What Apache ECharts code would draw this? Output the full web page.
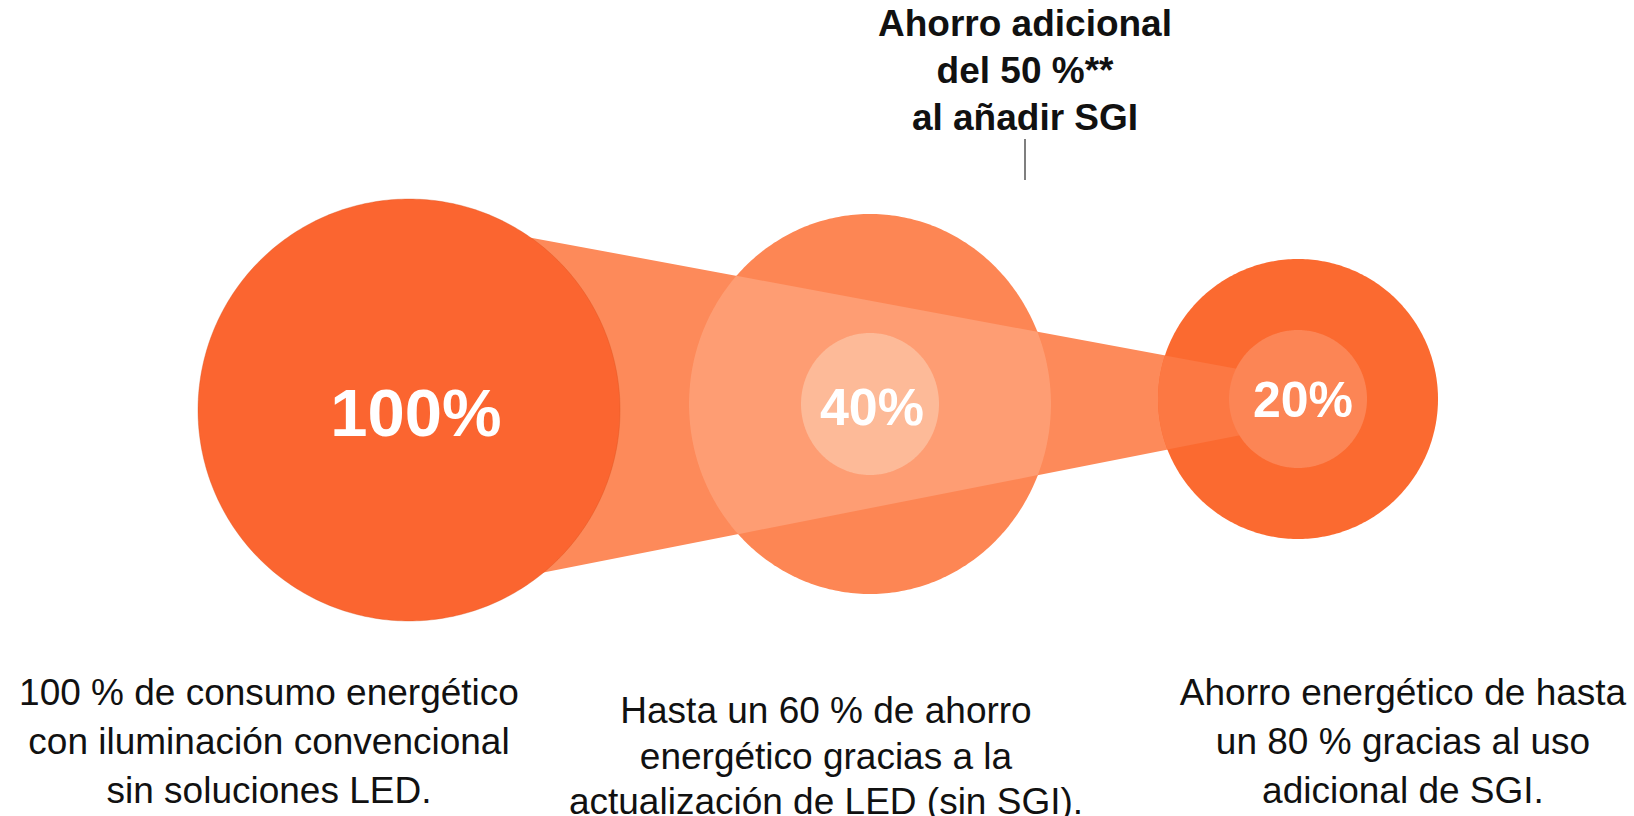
<!DOCTYPE html>
<html><head><meta charset="utf-8">
<script src="https://cdn.jsdelivr.net/npm/echarts@6/dist/echarts.min.js"></script>
<style>html,body{margin:0;padding:0;background:#fff}#c{width:1634px;height:816px}</style>
</head><body><div id="c"></div>
<script>
// ---- data ----
const categories = ['Iluminación convencional', 'LED', 'LED + SGI'];
const consumption = [100, 40, 20];
const valueLabels = ['100%', '40%', '20%'];
const captions = [
  ['100 % de consumo energético', 'con iluminación convencional', 'sin soluciones LED.'],
  ['Hasta un 60 % de ahorro', 'energético gracias a la', 'actualización de LED (sin SGI).'],
  ['Ahorro energético de hasta', 'un 80 % gracias al uso', 'adicional de SGI.']
];
const annotationLines = ['Ahorro adicional', 'del 50 %**', 'al añadir SGI'];

// ---- layout (canvas units) ----
const layout = {
  cx: [409, 870, 1298], cy: [410, 404, 399],
  rx: [211, 181, 140], ry: [211, 190, 140],
  innerRx: [0, 69, 69], innerRy: [0, 71, 69],
  labelSize: [67, 52, 50], labelDX: [7, 2, 5], labelDY: [2, 3, 1],
  cone: [[409, 215], [1297, 380], [1297, 424], [409, 599]],
  captionX: [269, 826, 1403],
  captionY: [[692, 741, 790], [710, 756, 801], [692, 741, 790]],
  annX: 1025, annY: [23, 70, 117], annLine: [139, 180]
};
const colors = {
  big: '#fb6530', cone: '#fd8a5a', mid: '#fd8654', coneMid: '#fe9d73', midInner: '#fdba98',
  small: '#fb6a30', coneSmall: '#fc7843', smallInner: '#fc8555'
};

function ellipsePts(c, rx, ry, n) {
  const pts = [];
  for (let i = 0; i < n; i++) {
    const a = 2 * Math.PI * i / n;
    pts.push([c[0] + rx * Math.cos(a), c[1] + ry * Math.sin(a)]);
  }
  return pts;
}
function clipPoly(subject, clip) {
  let area = 0;
  for (let i = 0; i < clip.length; i++) {
    const a = clip[i], b = clip[(i + 1) % clip.length];
    area += a[0] * b[1] - b[0] * a[1];
  }
  const s = area > 0 ? 1 : -1;
  let out = subject;
  for (let i = 0; i < clip.length; i++) {
    const A = clip[i], B = clip[(i + 1) % clip.length];
    const inside = p => s * ((B[0] - A[0]) * (p[1] - A[1]) - (B[1] - A[1]) * (p[0] - A[0])) >= 0;
    const inter = (P, Q) => {
      const x1 = P[0], y1 = P[1], x2 = Q[0], y2 = Q[1];
      const x3 = A[0], y3 = A[1], x4 = B[0], y4 = B[1];
      const d = (x1 - x2) * (y3 - y4) - (y1 - y2) * (x3 - x4);
      const t = ((x1 - x3) * (y3 - y4) - (y1 - y3) * (x3 - x4)) / d;
      return [x1 + t * (x2 - x1), y1 + t * (y2 - y1)];
    };
    const inp = out; out = [];
    for (let j = 0; j < inp.length; j++) {
      const P = inp[j], Q = inp[(j + 1) % inp.length];
      const pi = inside(P), qi = inside(Q);
      if (pi) { out.push(P); if (!qi) out.push(inter(P, Q)); }
      else if (qi) out.push(inter(P, Q));
    }
    if (!out.length) break;
  }
  return out;
}

function renderItem(params, api) {
  const children = [];
  const C = i => api.coord([layout.cx[i], layout.cy[i]]);
  const S = (rx, ry) => api.size([rx, ry]);
  const cone = layout.cone.map(p => api.coord(p));
  const ell = (c, rx, ry, fill) => ({ type: 'polygon', shape: { points: ellipsePts(c, rx, ry, 360) }, style: { fill } });
  // cone
  children.push({ type: 'polygon', shape: { points: cone }, style: { fill: colors.cone } });
  // middle circle
  const c1 = C(1), s1 = S(layout.rx[1], layout.ry[1]);
  children.push(ell(c1, s1[0], s1[1], colors.mid));
  children.push({ type: 'polygon', shape: { points: clipPoly(ellipsePts(c1, s1[0], s1[1], 360), cone) }, style: { fill: colors.coneMid } });
  const si1 = S(layout.innerRx[1], layout.innerRy[1]);
  children.push(ell(c1, si1[0], si1[1], colors.midInner));
  // small circle
  const c2 = C(2), s2 = S(layout.rx[2], layout.ry[2]);
  children.push(ell(c2, s2[0], s2[1], colors.small));
  children.push({ type: 'polygon', shape: { points: clipPoly(ellipsePts(c2, s2[0], s2[1], 360), cone) }, style: { fill: colors.coneSmall } });
  const si2 = S(layout.innerRx[2], layout.innerRy[2]);
  children.push(ell(c2, si2[0], si2[1], colors.smallInner));
  // big circle
  const c0 = C(0), s0 = S(layout.rx[0], layout.ry[0]);
  children.push({ type: 'polygon', shape: { points: ellipsePts(c0, s0[0], s0[1], 360) }, style: { fill: colors.big, stroke: 'rgba(215,80,30,0.35)', lineWidth: 1 } });
  // value labels
  for (let i = 0; i < consumption.length; i++) {
    const p = api.coord([layout.cx[i] + layout.labelDX[i], layout.cy[i] + layout.labelDY[i]]);
    children.push({ type: 'text', style: {
      text: valueLabels[i], x: p[0], y: p[1], align: 'center', verticalAlign: 'middle',
      fill: '#ffffff', font: 'bold ' + layout.labelSize[i] + 'px "Liberation Sans", Arial, sans-serif' } });
  }
  // captions
  for (let i = 0; i < captions.length; i++) {
    captions[i].forEach((t, k) => {
      const p = api.coord([layout.captionX[i], layout.captionY[i][k]]);
      children.push({ type: 'text', style: {
        text: t, x: p[0], y: p[1], align: 'center', verticalAlign: 'middle',
        fill: '#111111', font: '37px "Liberation Sans", Arial, sans-serif' } });
    });
  }
  // annotation
  annotationLines.forEach((t, k) => {
    const p = api.coord([layout.annX, layout.annY[k]]);
    children.push({ type: 'text', style: {
      text: t, x: p[0], y: p[1], align: 'center', verticalAlign: 'middle',
      fill: '#111111', font: 'bold 37px "Liberation Sans", Arial, sans-serif' } });
  });
  const a = api.coord([layout.annX, layout.annLine[0]]), b = api.coord([layout.annX, layout.annLine[1]]);
  children.push({ type: 'line', shape: { x1: a[0], y1: a[1], x2: b[0], y2: b[1] }, style: { stroke: '#555555', lineWidth: 1.5 } });
  return { type: 'group', children };
}

const chart = echarts.init(document.getElementById('c'), null, { renderer: 'svg' });
chart.setOption({
  animation: false,
  backgroundColor: '#ffffff',
  grid: { left: 0, right: 0, top: 0, bottom: 0 },
  xAxis: { type: 'value', min: 0, max: 1634, show: false },
  yAxis: { type: 'value', min: 0, max: 816, inverse: true, show: false },
  series: [{
    type: 'custom', name: categories.join(' / '), renderItem, clip: false, silent: true,
    data: [[0, 0]]
  }]
});
</script></body></html>
